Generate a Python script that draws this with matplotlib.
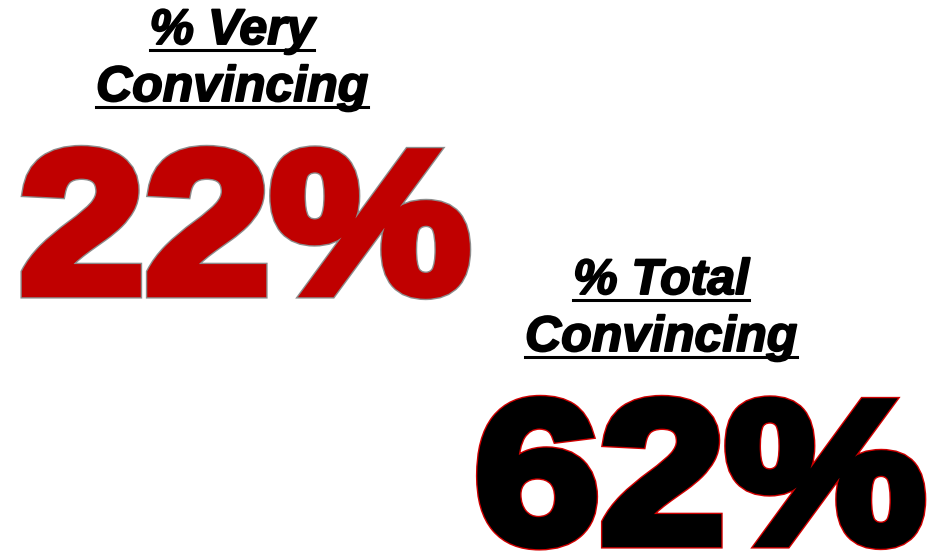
import matplotlib
matplotlib.use("Agg")
import matplotlib.pyplot as plt
import matplotlib.patheffects as pe
from matplotlib.transforms import Affine2D
from matplotlib.lines import Line2D

# data
labels = [["% Very", "Convincing"], ["% Total", "Convincing"]]
values = [22, 62]

W, H = 940, 551
fig = plt.figure(figsize=(W / 100, H / 100), dpi=100)
fig.patch.set_facecolor("white")

def fx(x):
    return x / W

def fy(y):
    return 1 - y / H


class WideStroke(pe.Stroke):
    """Stroke that also stretches the glyphs sideways about a centre x."""
    def __init__(self, cx, sx, **kw):
        super().__init__(**kw)
        self.cx = cx
        self.sx = sx

    def _offset_transform(self, renderer):
        return Affine2D().translate(-self.cx, 0).scale(self.sx, 1).translate(self.cx, 0)


head_font = dict(family="Liberation Sans", weight="bold", style="italic",
                 size=36, color="black")
big_font = dict(family="Liberation Sans", weight="bold", size=145)

# heading positions (center x, baselines)
head_pos = [(232, [44, 101]), (661, [294, 351])]
num_pos = [(245, 292), (700, 542)]
num_colors = ["#c00000", "black"]
num_edges = ["#8c8c8c", "#d00000"]
stretch = 1.12

heads = []
for (cx, ys), lines in zip(head_pos, labels):
    for y, txt in zip(ys, lines):
        t = fig.text(fx(cx), fy(y), txt, ha="center", va="baseline",
                     **head_font,
                     path_effects=[pe.Stroke(linewidth=1.4, foreground="black"),
                                   pe.Normal()])
        heads.append((t, y))

for (cx, y), v, c, ec in zip(num_pos, values, num_colors, num_edges):
    fig.text(fx(cx), fy(y), f"{v}%", ha="center", va="baseline",
             color=c, **big_font,
             path_effects=[WideStroke(cx, stretch, linewidth=9.5, foreground=ec,
                                      joinstyle="miter"),
                           WideStroke(cx, stretch, linewidth=7.5, foreground=c,
                                      joinstyle="miter"),
                           WideStroke(cx, stretch, linewidth=0, foreground=c)])

# underline the headings
fig.canvas.draw()
r = fig.canvas.get_renderer()
for t, y in heads:
    bb = t.get_window_extent(r)
    uy = fy(y + 6)
    fig.add_artist(Line2D([bb.x0 / W, bb.x1 / W], [uy, uy],
                          transform=fig.transFigure, color="black", lw=2.2))

fig.savefig("out.png", dpi=100, facecolor="white")
